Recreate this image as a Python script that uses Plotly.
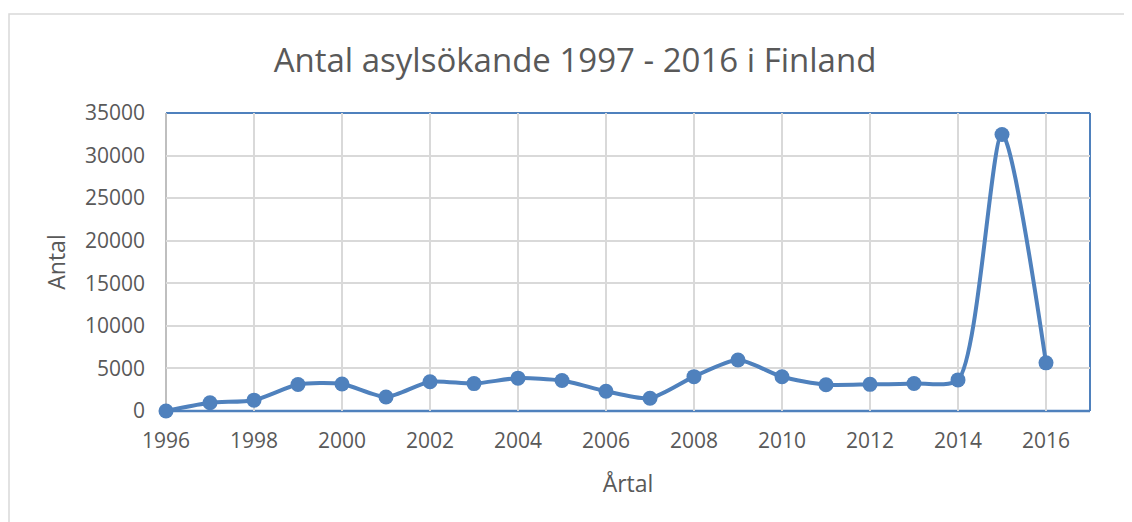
import plotly.graph_objects as go

years = list(range(1996, 2017))
applicants = [0, 973, 1272, 3106, 3170, 1651, 3443, 3221, 3861, 3574, 2324,
              1505, 4035, 5988, 4018, 3088, 3129, 3238, 3651, 32476, 5657]
x_ticks = list(range(1996, 2017, 2))

TITLE = "Antal asylsökande 1997 - 2016 i Finland"
BLUE = "#4F81BD"
GREY_TXT = "#595959"
FONT = "Open Sans"

OFF = 8  # page body margin
W, H = 1132, 522
L = 166 - OFF
T = 113 - OFF
R = W - (1090 - OFF)
B = H - (411 - OFF)
pw, ph = W - L - R, H - T - B

def px(x):
    return (x - OFF - L) / pw

def py(y):
    return (H - B - (y - OFF)) / ph

fig = go.Figure()
fig.add_trace(go.Scatter(
    x=years, y=applicants, mode="lines+markers",
    line=dict(color=BLUE, width=4, shape="spline", smoothing=0.7),
    marker=dict(color=BLUE, size=15),
    showlegend=False, cliponaxis=False,
))

fig.update_layout(
    width=W, height=H,
    margin=dict(l=L, r=R, t=T, b=B),
    paper_bgcolor="white", plot_bgcolor="white",
    font=dict(family=FONT, color=GREY_TXT, size=21),
    title=dict(text=TITLE, x=px(575), xanchor="center", y=1 - (60 - OFF) / H, yanchor="middle",
               xref="paper",
               font=dict(size=33, color=GREY_TXT, family=FONT)),
    xaxis=dict(range=[1996, 2017], tickvals=x_ticks, showgrid=True,
               gridcolor="#D9D9D9", gridwidth=1.5, zeroline=False,
               showline=False, ticks="", ticklabelstandoff=15,
               tickfont=dict(size=21, color=GREY_TXT),
               title=dict(text="Årtal", font=dict(size=23, color=GREY_TXT), standoff=22)),
    yaxis=dict(range=[0, 35000], dtick=5000, tickformat="d", showgrid=True,
               gridcolor="#D9D9D9", gridwidth=1.5, zeroline=False,
               showline=False, ticks="", ticklabelstandoff=20,
               tickfont=dict(size=21, color=GREY_TXT),
               title=dict(text="Antal", font=dict(size=23, color=GREY_TXT), standoff=12)),
    shapes=[
        dict(type="rect", xref="paper", yref="paper", layer="below",
             x0=px(9), x1=px(1131), y0=py(540), y1=py(14),
             line=dict(color="#D9D9D9", width=1.5)),
        dict(type="line", xref="paper", yref="paper", x0=0, x1=1, y0=1, y1=1,
             line=dict(color=BLUE, width=2), layer="below"),
        dict(type="line", xref="paper", yref="paper", x0=1, x1=1, y0=0, y1=1,
             line=dict(color=BLUE, width=2), layer="below"),
        dict(type="line", xref="paper", yref="paper", x0=0, x1=1, y0=0, y1=0,
             line=dict(color=BLUE, width=2.5), layer="below"),
        dict(type="line", xref="paper", yref="paper", x0=0, x1=0, y0=0, y1=1,
             line=dict(color="#BFBFBF", width=2), layer="below"),
    ],
)

fig.write_html("out.html")
